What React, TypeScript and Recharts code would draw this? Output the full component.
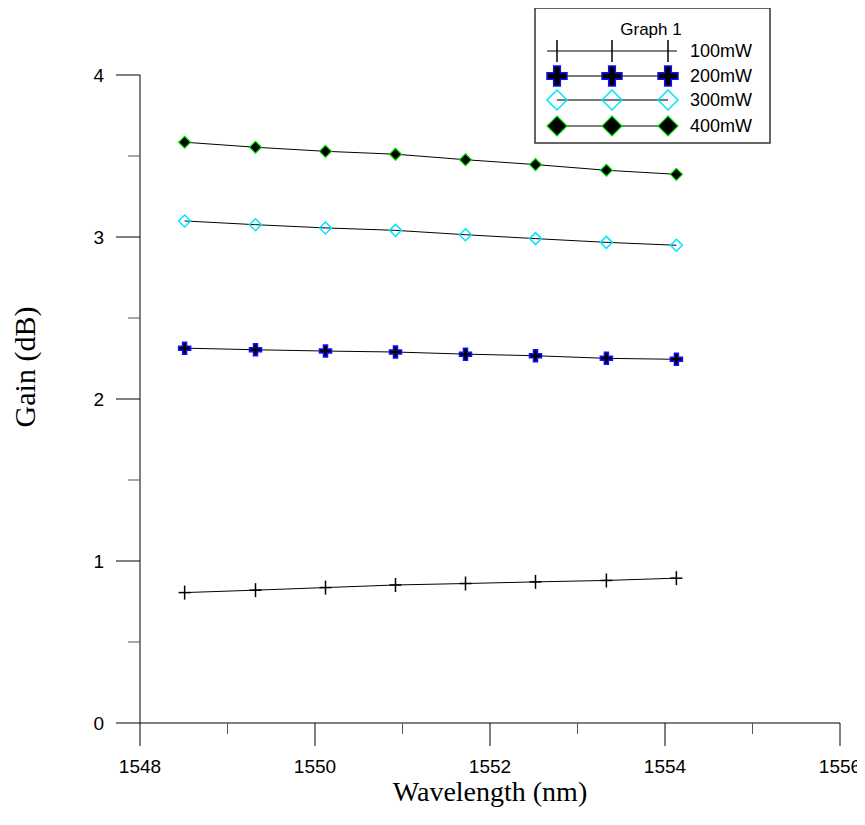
import React from 'react';
import { LineChart, Line, XAxis, YAxis, Legend, Label } from 'recharts';

// wavelengths (nm) and gains (dB)
const wavelengths = [1548.51, 1549.32, 1550.12, 1550.92, 1551.72, 1552.52, 1553.33, 1554.13];
const gain100 = [0.805, 0.82, 0.836, 0.852, 0.861, 0.871, 0.88, 0.894];
const gain200 = [2.314, 2.304, 2.296, 2.29, 2.277, 2.267, 2.251, 2.245];
const gain300 = [3.099, 3.076, 3.056, 3.041, 3.014, 2.99, 2.967, 2.949];
const gain400 = [3.585, 3.554, 3.529, 3.511, 3.477, 3.447, 3.412, 3.387];

const seriesNames = ['100mW', '200mW', '300mW', '400mW'];
const xTicks = [1548, 1549, 1550, 1551, 1552, 1553, 1554, 1555, 1556];
const yTicks = [0, 0.5, 1, 1.5, 2, 2.5, 3, 3.5, 4];

const data = wavelengths.map((w, i) => ({
  wl: w,
  p100: gain100[i],
  p200: gain200[i],
  p300: gain300[i],
  p400: gain400[i],
}));

// 865x825 window minus the 8px body margin on each side
const W = 849;
const H = 809;
const PLOT_LEFT = 132;
const PLOT_BOTTOM = 715;
const SANS = 'Liberation Sans, Arial, sans-serif';
const SERIF = 'Liberation Serif, Times New Roman, serif';

type Marker = (cx: number, cy: number, s: number, key?: React.Key) => React.ReactElement;

const thinPlus: Marker = (cx, cy, s, key) => (
  <g key={key}>
    <line x1={cx - s} x2={cx + s} y1={cy} y2={cy} stroke="#000" strokeWidth={1.5} />
    <line x1={cx} x2={cx} y1={cy - s - 1} y2={cy + s + 1} stroke="#000" strokeWidth={1.5} />
  </g>
);

const thickPlus: Marker = (cx, cy, s, key) => {
  const w = s / 3;
  const d = `M${cx - w},${cy - s}H${cx + w}V${cy - w}H${cx + s}V${cy + w}H${cx + w}V${cy + s}H${cx - w}V${cy + w}H${cx - s}V${cy - w}H${cx - w}Z`;
  return <path key={key} d={d} fill="#000" stroke="#1010ff" strokeWidth={1.5} />;
};

const diamondPath = (cx: number, cy: number, s: number) =>
  `M${cx},${cy - s}L${cx + s},${cy}L${cx},${cy + s}L${cx - s},${cy}Z`;

const openDiamond: Marker = (cx, cy, s, key) => (
  <path key={key} d={diamondPath(cx, cy, s)} fill="none" stroke="#00e5ff" strokeWidth={1.5} />
);

const solidDiamond: Marker = (cx, cy, s, key) => (
  <path key={key} d={diamondPath(cx, cy, s)} fill="#000" stroke="#00dd00" strokeWidth={1.2} />
);

const markers = [thinPlus, thickPlus, openDiamond, solidDiamond];
const keys = ['p100', 'p200', 'p300', 'p400'];
const legendLineColors = ['#000', '#777', '#777', '#000'];

const dotOf = (m: Marker) => (props: any) => m(props.cx, props.cy, 6, props.index);

const XTick = (props: any) => {
  const v = props.payload.value;
  const major = v % 2 === 0;
  const x = props.payload.coordinate ?? props.x;
  return (
    <g>
      <line x1={x} x2={x} y1={PLOT_BOTTOM} y2={PLOT_BOTTOM + (major ? 23 : 11)} stroke={major ? '#000' : '#555'} />
      {major && (
        <text x={x} y={PLOT_BOTTOM + 50} textAnchor="middle" fontFamily={SANS} fontSize={19} fill="#000">
          {v}
        </text>
      )}
    </g>
  );
};

const YTick = (props: any) => {
  const v = props.payload.value;
  const major = Number.isInteger(v);
  const y = props.payload.coordinate ?? props.y;
  return (
    <g>
      <line x1={PLOT_LEFT - (major ? 24 : 12)} x2={PLOT_LEFT} y1={y} y2={y} stroke={major ? '#000' : '#555'} />
      {major && (
        <text x={PLOT_LEFT - 36} y={y} dy="0.36em" textAnchor="end" fontFamily={SANS} fontSize={19} fill="#000">
          {v}
        </text>
      )}
    </g>
  );
};

const rowY = [44, 69, 93, 119];
const symX = [23, 78, 134];

const LegendBox = () => (
  <svg width={237} height={137} style={{ display: 'block' }}>
    <rect x={1} y={1} width={235} height={135} fill="#fff" stroke="#333" strokeWidth={1.5} />
    <text x={117} y={28} textAnchor="middle" fontFamily={SANS} fontSize={17} fill="#000">
      Graph 1
    </text>
    {seriesNames.map((name, i) => (
      <g key={name}>
        <line
          x1={i === 0 ? 13 : symX[0]}
          x2={i === 0 ? 143 : symX[2]}
          y1={rowY[i]}
          y2={rowY[i]}
          stroke={legendLineColors[i]}
          strokeWidth={i === 1 || i === 2 ? 2 : 1}
        />
        {symX.map((sx, j) =>
          i === 0 ? (
            <line key={j} x1={sx} x2={sx} y1={rowY[i] - 11} y2={rowY[i] + 11} stroke="#000" strokeWidth={1.5} />
          ) : (
            markers[i](sx, rowY[i], 10, j)
          )
        )}
        <text x={156} y={rowY[i] + 6} fontFamily={SANS} fontSize={18} fill="#000">
          {name}
        </text>
      </g>
    ))}
  </svg>
);

export default function App() {
  return (
    <div style={{ width: W, height: H }}>
      <style>{'html, body { overflow: hidden; } .recharts-surface, .recharts-wrapper { overflow: visible !important; }'}</style>
      <LineChart width={W} height={H} data={data} margin={{ top: 67, right: 17, left: 52, bottom: 34 }}>
        <XAxis
          type="number"
          dataKey="wl"
          domain={[1548, 1556]}
          ticks={xTicks}
          interval={0}
          height={60}
          axisLine={{ stroke: '#000' }}
          tickLine={false}
          tick={<XTick />}
        >
          <Label value="Wavelength (nm)" position="insideBottom" offset={-18} fontFamily={SERIF} fontSize={28} fill="#000" />
        </XAxis>
        <YAxis
          type="number"
          domain={[0, 4]}
          ticks={yTicks}
          interval={0}
          width={80}
          axisLine={{ stroke: '#000' }}
          tickLine={false}
          tick={<YTick />}
        >
          <Label
            value="Gain (dB)"
            angle={-90}
            position="insideLeft"
            offset={-36}
            dy={-32}
            style={{ textAnchor: 'middle', fontFamily: SERIF, fontSize: 30, fill: '#000' }}
          />
        </YAxis>
        <Legend
          layout="vertical"
          align="center"
          verticalAlign="middle"
          content={() => <LegendBox />}
          wrapperStyle={{ position: 'absolute', left: 526, top: -1, width: 237, height: 137 }}
        />
        {keys.map((k, i) => (
          <Line
            key={k}
            dataKey={k}
            name={seriesNames[i]}
            stroke="#000"
            strokeWidth={1}
            dot={dotOf(markers[i])}
            activeDot={false}
            isAnimationActive={false}
          />
        ))}
      </LineChart>
    </div>
  );
}
